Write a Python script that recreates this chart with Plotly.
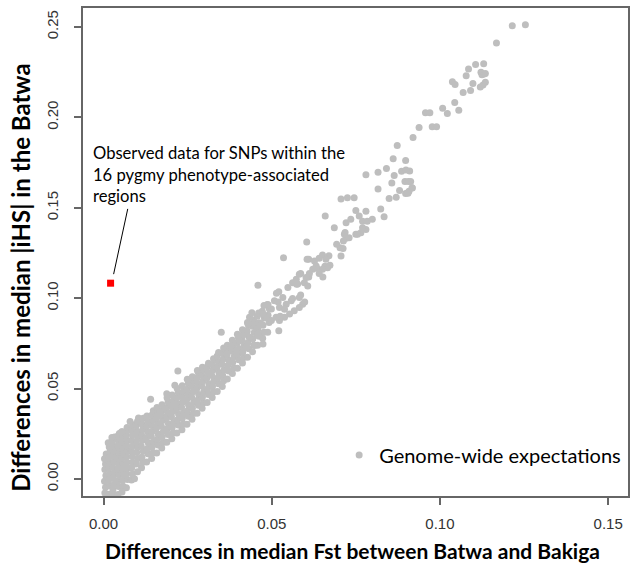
import plotly.graph_objects as go

# ---- data ----
# (Fst difference, |iHS| difference) pairs for the genome-wide expectations
blob_pts = [
    (0.0004,-0.0078),(0.0006,-0.0045),(0.0003,-0.0012),(0.0007,0.0020),(0.0004,0.0052),(0.0006,0.0083),(0.0003,0.0112),(0.0008,0.0138),
    (0.0016,-0.0085),(0.0018,-0.0037),(0.0015,-0.0006),(0.0019,0.0026),(0.0016,0.0058),(0.0018,0.0087),(0.0015,0.0116),(0.0019,0.0148),(0.0017,0.0177),(0.0014,0.0200),
    (0.0030,-0.0088),(0.0028,-0.0060),(0.0031,-0.0030),(0.0029,0.0003),(0.0032,0.0033),(0.0028,0.0064),(0.0031,0.0094),(0.0029,0.0124),(0.0032,0.0154),(0.0030,0.0183),(0.0027,0.0212),(0.0033,0.0232),
    (0.0043,-0.0086),(0.0045,-0.0041),(0.0042,-0.0009),(0.0046,0.0023),(0.0043,0.0055),(0.0045,0.0086),(0.0042,0.0118),(0.0046,0.0146),(0.0043,0.0178),(0.0045,0.0207),(0.0042,0.0236),(0.0047,0.0252),
    (0.0055,-0.0072),(0.0058,-0.0040),(0.0056,-0.0008),(0.0059,0.0024),(0.0056,0.0055),(0.0058,0.0085),(0.0055,0.0116),(0.0059,0.0146),(0.0057,0.0176),(0.0055,0.0205),(0.0058,0.0234),(0.0056,0.0262),
    (0.0068,-0.0048),(0.0071,-0.0003),(0.0069,0.0029),(0.0072,0.0060),(0.0070,0.0093),(0.0068,0.0123),(0.0072,0.0153),(0.0069,0.0183),(0.0071,0.0212),(0.0068,0.0241),(0.0072,0.0269),(0.0070,0.0285),
    (0.0083,-0.0005),(0.0092,0.0002),(0.0086,0.0028),(0.0084,0.0062),(0.0087,0.0093),(0.0085,0.0124),(0.0083,0.0155),(0.0087,0.0184),(0.0084,0.0214),(0.0086,0.0243),(0.0083,0.0272),(0.0087,0.0300),(0.0079,0.0318),
    (0.0101,0.0040),(0.0098,0.0083),(0.0102,0.0114),(0.0099,0.0146),(0.0101,0.0175),(0.0098,0.0205),(0.0102,0.0234),(0.0100,0.0264),(0.0097,0.0294),(0.0101,0.0320),(0.0104,0.0338),
]

band_pts = [
    (0.0113,0.0062),(0.0117,0.0093),(0.0114,0.0121),(0.0118,0.0154),(0.0112,0.0183),(0.0116,0.0214),(0.0113,0.0243),(0.0117,0.0275),(0.0114,0.0304),(0.0118,0.0336),
    (0.0128,0.0094),(0.0132,0.0139),(0.0129,0.0167),(0.0133,0.0200),(0.0127,0.0228),(0.0131,0.0261),(0.0128,0.0291),(0.0132,0.0320),(0.0129,0.0348),
    (0.0143,0.0113),(0.0147,0.0145),(0.0144,0.0176),(0.0148,0.0205),(0.0142,0.0236),(0.0146,0.0266),(0.0143,0.0297),(0.0147,0.0325),(0.0144,0.0354),(0.0148,0.0378),
    (0.0158,0.0144),(0.0162,0.0188),(0.0159,0.0219),(0.0163,0.0248),(0.0157,0.0280),(0.0161,0.0308),(0.0158,0.0339),(0.0162,0.0367),(0.0159,0.0396),
    (0.0173,0.0171),(0.0177,0.0202),(0.0174,0.0231),(0.0178,0.0263),(0.0172,0.0292),(0.0176,0.0323),(0.0173,0.0351),(0.0177,0.0382),(0.0174,0.0410),
    (0.0188,0.0203),(0.0192,0.0246),(0.0189,0.0277),(0.0193,0.0306),(0.0187,0.0337),(0.0191,0.0368),(0.0188,0.0396),(0.0192,0.0427),(0.0189,0.0450),
    (0.0203,0.0223),(0.0207,0.0254),(0.0204,0.0285),(0.0208,0.0313),(0.0202,0.0345),(0.0206,0.0374),(0.0203,0.0405),(0.0207,0.0433),(0.0204,0.0465),
    (0.0218,0.0254),(0.0222,0.0298),(0.0219,0.0327),(0.0223,0.0359),(0.0217,0.0388),(0.0221,0.0417),(0.0218,0.0449),(0.0222,0.0478),(0.0219,0.0500),
    (0.0233,0.0272),(0.0237,0.0303),(0.0234,0.0334),(0.0238,0.0363),(0.0232,0.0395),(0.0236,0.0424),(0.0233,0.0455),(0.0237,0.0484),(0.0234,0.0516),
    (0.0248,0.0303),(0.0252,0.0347),(0.0249,0.0376),(0.0253,0.0408),(0.0247,0.0437),(0.0251,0.0468),(0.0248,0.0497),(0.0252,0.0529),(0.0249,0.0552),
    (0.0263,0.0331),(0.0267,0.0362),(0.0264,0.0392),(0.0268,0.0423),(0.0262,0.0452),(0.0266,0.0483),(0.0263,0.0513),(0.0267,0.0542),(0.0264,0.0566),
    (0.0278,0.0364),(0.0282,0.0408),(0.0279,0.0436),(0.0283,0.0468),(0.0277,0.0499),(0.0281,0.0527),(0.0278,0.0558),(0.0282,0.0588),(0.0279,0.0600),
    (0.0293,0.0391),(0.0297,0.0422),(0.0294,0.0453),(0.0298,0.0482),(0.0292,0.0514),(0.0296,0.0543),(0.0293,0.0572),(0.0297,0.0603),(0.0294,0.0618),
    (0.0308,0.0423),(0.0312,0.0467),(0.0309,0.0498),(0.0313,0.0527),(0.0307,0.0559),(0.0311,0.0588),(0.0308,0.0619),(0.0312,0.0640),
    (0.0323,0.0451),(0.0327,0.0482),(0.0324,0.0513),(0.0328,0.0542),(0.0322,0.0573),(0.0326,0.0604),(0.0323,0.0633),(0.0327,0.0665),
    (0.0338,0.0484),(0.0342,0.0527),(0.0339,0.0558),(0.0343,0.0589),(0.0337,0.0618),(0.0341,0.0649),(0.0338,0.0680),(0.0342,0.0700),
    (0.0353,0.0512),(0.0357,0.0543),(0.0354,0.0574),(0.0358,0.0603),(0.0352,0.0635),(0.0356,0.0664),(0.0353,0.0696),(0.0357,0.0725),
    (0.0368,0.0553),(0.0372,0.0597),(0.0369,0.0628),(0.0373,0.0657),(0.0367,0.0689),(0.0371,0.0718),(0.0368,0.0740),
    (0.0383,0.0583),(0.0387,0.0614),(0.0384,0.0645),(0.0388,0.0676),(0.0382,0.0706),(0.0386,0.0737),(0.0383,0.0768),
    (0.0398,0.0613),(0.0402,0.0659),(0.0399,0.0688),(0.0403,0.0720),(0.0397,0.0751),(0.0401,0.0782),(0.0398,0.0800),
    (0.0413,0.0641),(0.0417,0.0672),(0.0414,0.0703),(0.0418,0.0735),(0.0412,0.0768),(0.0416,0.0800),(0.0413,0.0826),
    (0.0428,0.0674),(0.0432,0.0720),(0.0429,0.0753),(0.0433,0.0785),(0.0427,0.0817),(0.0431,0.0850),(0.0428,0.0865),
    (0.0443,0.0704),(0.0447,0.0741),(0.0444,0.0776),(0.0448,0.0810),(0.0442,0.0845),(0.0446,0.0880),
    (0.0458,0.0740),(0.0462,0.0790),(0.0459,0.0827),(0.0463,0.0864),(0.0457,0.0900),(0.0461,0.0918),
    (0.0473,0.0778),(0.0477,0.0812),(0.0474,0.0850),(0.0478,0.0890),(0.0472,0.0928),
    (0.0488,0.0812),(0.0492,0.0866),(0.0489,0.0905),(0.0493,0.0940),(0.0487,0.0965),
]

outlier_pts = [
    (0.0221,0.0597),(0.0140,0.0441),(0.0188,0.0472),(0.0212,0.0518),(0.0168,0.0371),
    (0.0350,0.0811),(0.0459,0.1072),(0.0025,0.0230),(0.0054,0.0261),
]

mid_pts = [
    (0.0521,0.1035),(0.0548,0.1059),(0.0533,0.1004),(0.0508,0.0986),(0.0489,0.0964),(0.0499,0.0940),
    (0.0523,0.0949),(0.0543,0.0967),(0.0558,0.0986),(0.0582,0.1004),(0.0592,0.0967),(0.0582,0.0949),
    (0.0567,0.0931),(0.0553,0.0912),(0.0538,0.0894),(0.0523,0.0876),(0.0513,0.0894),(0.0499,0.0876),
    (0.0484,0.0894),(0.0474,0.0912),(0.0521,0.0820),(0.0469,0.0857),(0.0454,0.0839),(0.0434,0.0894),
    (0.0444,0.0857),(0.0424,0.0820),(0.0414,0.0793),(0.0405,0.0765),(0.0434,0.0784),(0.0459,0.0802),
    (0.0474,0.0747),(0.0449,0.0738),(0.0424,0.0729),(0.0395,0.0710),(0.0380,0.0738),(0.0365,0.0692),
    (0.0441,0.0920),(0.0429,0.0860),(0.0477,0.0959),(0.0519,0.0979),(0.0525,0.0900),(0.0538,0.0939),
    (0.0514,0.1028),(0.0562,0.0998),(0.0586,0.1018),(0.0598,0.0979),(0.0610,0.1117),(0.0574,0.1077),
    (0.0586,0.1137),(0.0652,0.1117),(0.0658,0.1176),(0.0670,0.1235),(0.0610,0.1215),(0.0634,0.1166),
    (0.0605,0.1215),(0.0627,0.1206),(0.0641,0.1221),(0.0651,0.1239),(0.0661,0.1215),(0.0673,0.1182),
    (0.0666,0.1169),(0.0651,0.1160),(0.0641,0.1136),(0.0632,0.1178),(0.0622,0.1160),(0.0612,0.1136),
    (0.0602,0.1114),(0.0582,0.1133),(0.0573,0.1105),(0.0562,0.1086),(0.0577,0.1078),(0.0597,0.1086),
    (0.0607,0.1068),(0.0535,0.1224),(0.0604,0.1311),
]

upper_pts = [
    (0.1254,0.2513),(0.1215,0.2507),(0.1168,0.2412),(0.1106,0.2292),(0.1130,0.2296),(0.1085,0.2267),
    (0.1122,0.2250),(0.1125,0.2236),(0.1131,0.2240),(0.1135,0.2243),(0.1078,0.2230),(0.1037,0.2197),
    (0.1045,0.2182),(0.1098,0.2188),(0.1135,0.2195),(0.1128,0.2179),(0.1120,0.2168),(0.1069,0.2138),
    (0.1091,0.2149),(0.1044,0.2083),(0.1008,0.2050),(0.1022,0.2021),(0.1056,0.2039),(0.0957,0.2026),
    (0.0970,0.2026),(0.0938,0.1944),(0.0977,0.1948),(0.0990,0.1948),(0.0920,0.1889),(0.0873,0.1845),
    (0.0861,0.1771),(0.0898,0.1762),(0.0841,0.1718),(0.0886,0.1702),(0.0910,0.1703),(0.0864,0.1678),
    (0.0896,0.1646),(0.0906,0.1646),(0.0913,0.1646),(0.0857,0.1637),(0.0918,0.1610),(0.0908,0.1591),
    (0.0898,0.1579),(0.0880,0.1595),(0.0870,0.1558),(0.0849,0.1551),(0.0780,0.1683),(0.0816,0.1696),
    (0.0816,0.1604),(0.0824,0.1494),(0.0834,0.1450),(0.0706,0.1549),(0.0725,0.1555),(0.0745,0.1555),
    (0.0659,0.1454),(0.0686,0.1389),(0.0750,0.1485),(0.0780,0.1481),(0.0721,0.1417),(0.0735,0.1436),
    (0.0760,0.1454),(0.0770,0.1426),(0.0784,0.1426),(0.0799,0.1436),(0.0780,0.1380),(0.0765,0.1362),
    (0.0750,0.1353),(0.0770,0.1389),(0.0716,0.1353),(0.0721,0.1331),(0.0713,0.1316),(0.0703,0.1279),
    (0.0693,0.1298),(0.0706,0.1233),(0.0899,0.1709),(0.0917,0.1611),(0.0905,0.1581),(0.0755,0.1354),
    (0.0730,0.1334),(0.0718,0.1363),(0.0712,0.1275),
]

observed_x = [0.0021]
observed_y = [0.1083]

x_ticks = [0.00, 0.05, 0.10, 0.15]
y_ticks = [0.00, 0.05, 0.10, 0.15, 0.20, 0.25]

all_pts = blob_pts + band_pts + outlier_pts + mid_pts + upper_pts
gx = [p[0] for p in all_pts]
gy = [p[1] for p in all_pts]

FONT = "Lato"

fig = go.Figure()
fig.add_trace(go.Scatter(
    x=gx, y=gy, mode="markers", name="Genome-wide expectations",
    marker=dict(color="#bebebe", size=7, line=dict(width=0)),
    showlegend=True,
))
fig.add_trace(go.Scatter(
    x=observed_x, y=observed_y, mode="markers", showlegend=False,
    marker=dict(color="#ff0000", size=7, symbol="square", line=dict(width=0)),
))

# pointer line from the red square to the label
fig.add_shape(type="line", xref="x", yref="y",
              x0=0.0030, y0=0.1133, x1=0.0072, y1=0.1494,
              line=dict(color="black", width=1))

fig.add_annotation(
    xref="paper", yref="paper", x=0.0146, y=0.659,
    xanchor="left", yanchor="middle", align="left", showarrow=False,
    text="Observed data for SNPs within the<br>16 pygmy phenotype-associated<br>regions",
    font=dict(family=FONT, size=16.6, color="black"),
)

# axis titles
fig.add_annotation(
    xref="paper", yref="paper", x=0.494, y=0, yshift=-54,
    xanchor="center", yanchor="middle", showarrow=False,
    text="<b>Differences in median Fst between Batwa and Bakiga</b>",
    font=dict(family=FONT, size=21, color="black"),
)
fig.add_annotation(
    xref="paper", yref="paper", x=0, xshift=-62, y=0.447,
    xanchor="center", yanchor="middle", showarrow=False, textangle=-90,
    text="<b>Differences in median |iHS| in the Batwa</b>",
    font=dict(family=FONT, size=24, color="black"),
)

fig.update_layout(
    width=636, height=563,
    margin=dict(l=83, r=6, t=6, b=67),
    paper_bgcolor="white", plot_bgcolor="white",
    legend=dict(x=0.47, y=0.084, xanchor="left", yanchor="middle",
                bgcolor="rgba(0,0,0,0)",
                font=dict(family=FONT, size=20, color="black")),
    xaxis=dict(range=[-0.0061, 0.1559], tickvals=x_ticks,
               ticktext=[f"{v:.2f}" for v in x_ticks],
               showgrid=False, zeroline=False, showline=True, mirror=True,
               linecolor="#666666", linewidth=1.5, ticks="outside", ticklen=7,
               tickcolor="#666666", tickwidth=1.5, ticklabelstandoff=6,
               tickfont=dict(family="Liberation Sans", size=15, color="#333333")),
    yaxis=dict(range=[-0.0094, 0.2605], tickvals=y_ticks,
               ticktext=[f"{v:.2f}" for v in y_ticks],
               showgrid=False, zeroline=False, showline=True, mirror=True,
               linecolor="#666666", linewidth=1.5, ticks="outside", ticklen=7,
               tickcolor="#666666", tickwidth=1.5, tickangle=-90, ticklabelstandoff=10,
               tickfont=dict(family="Liberation Sans", size=15, color="#333333")),
)

fig.write_html("out.html", config={"displayModeBar": False},
               post_script="document.body.style.margin='0';")
